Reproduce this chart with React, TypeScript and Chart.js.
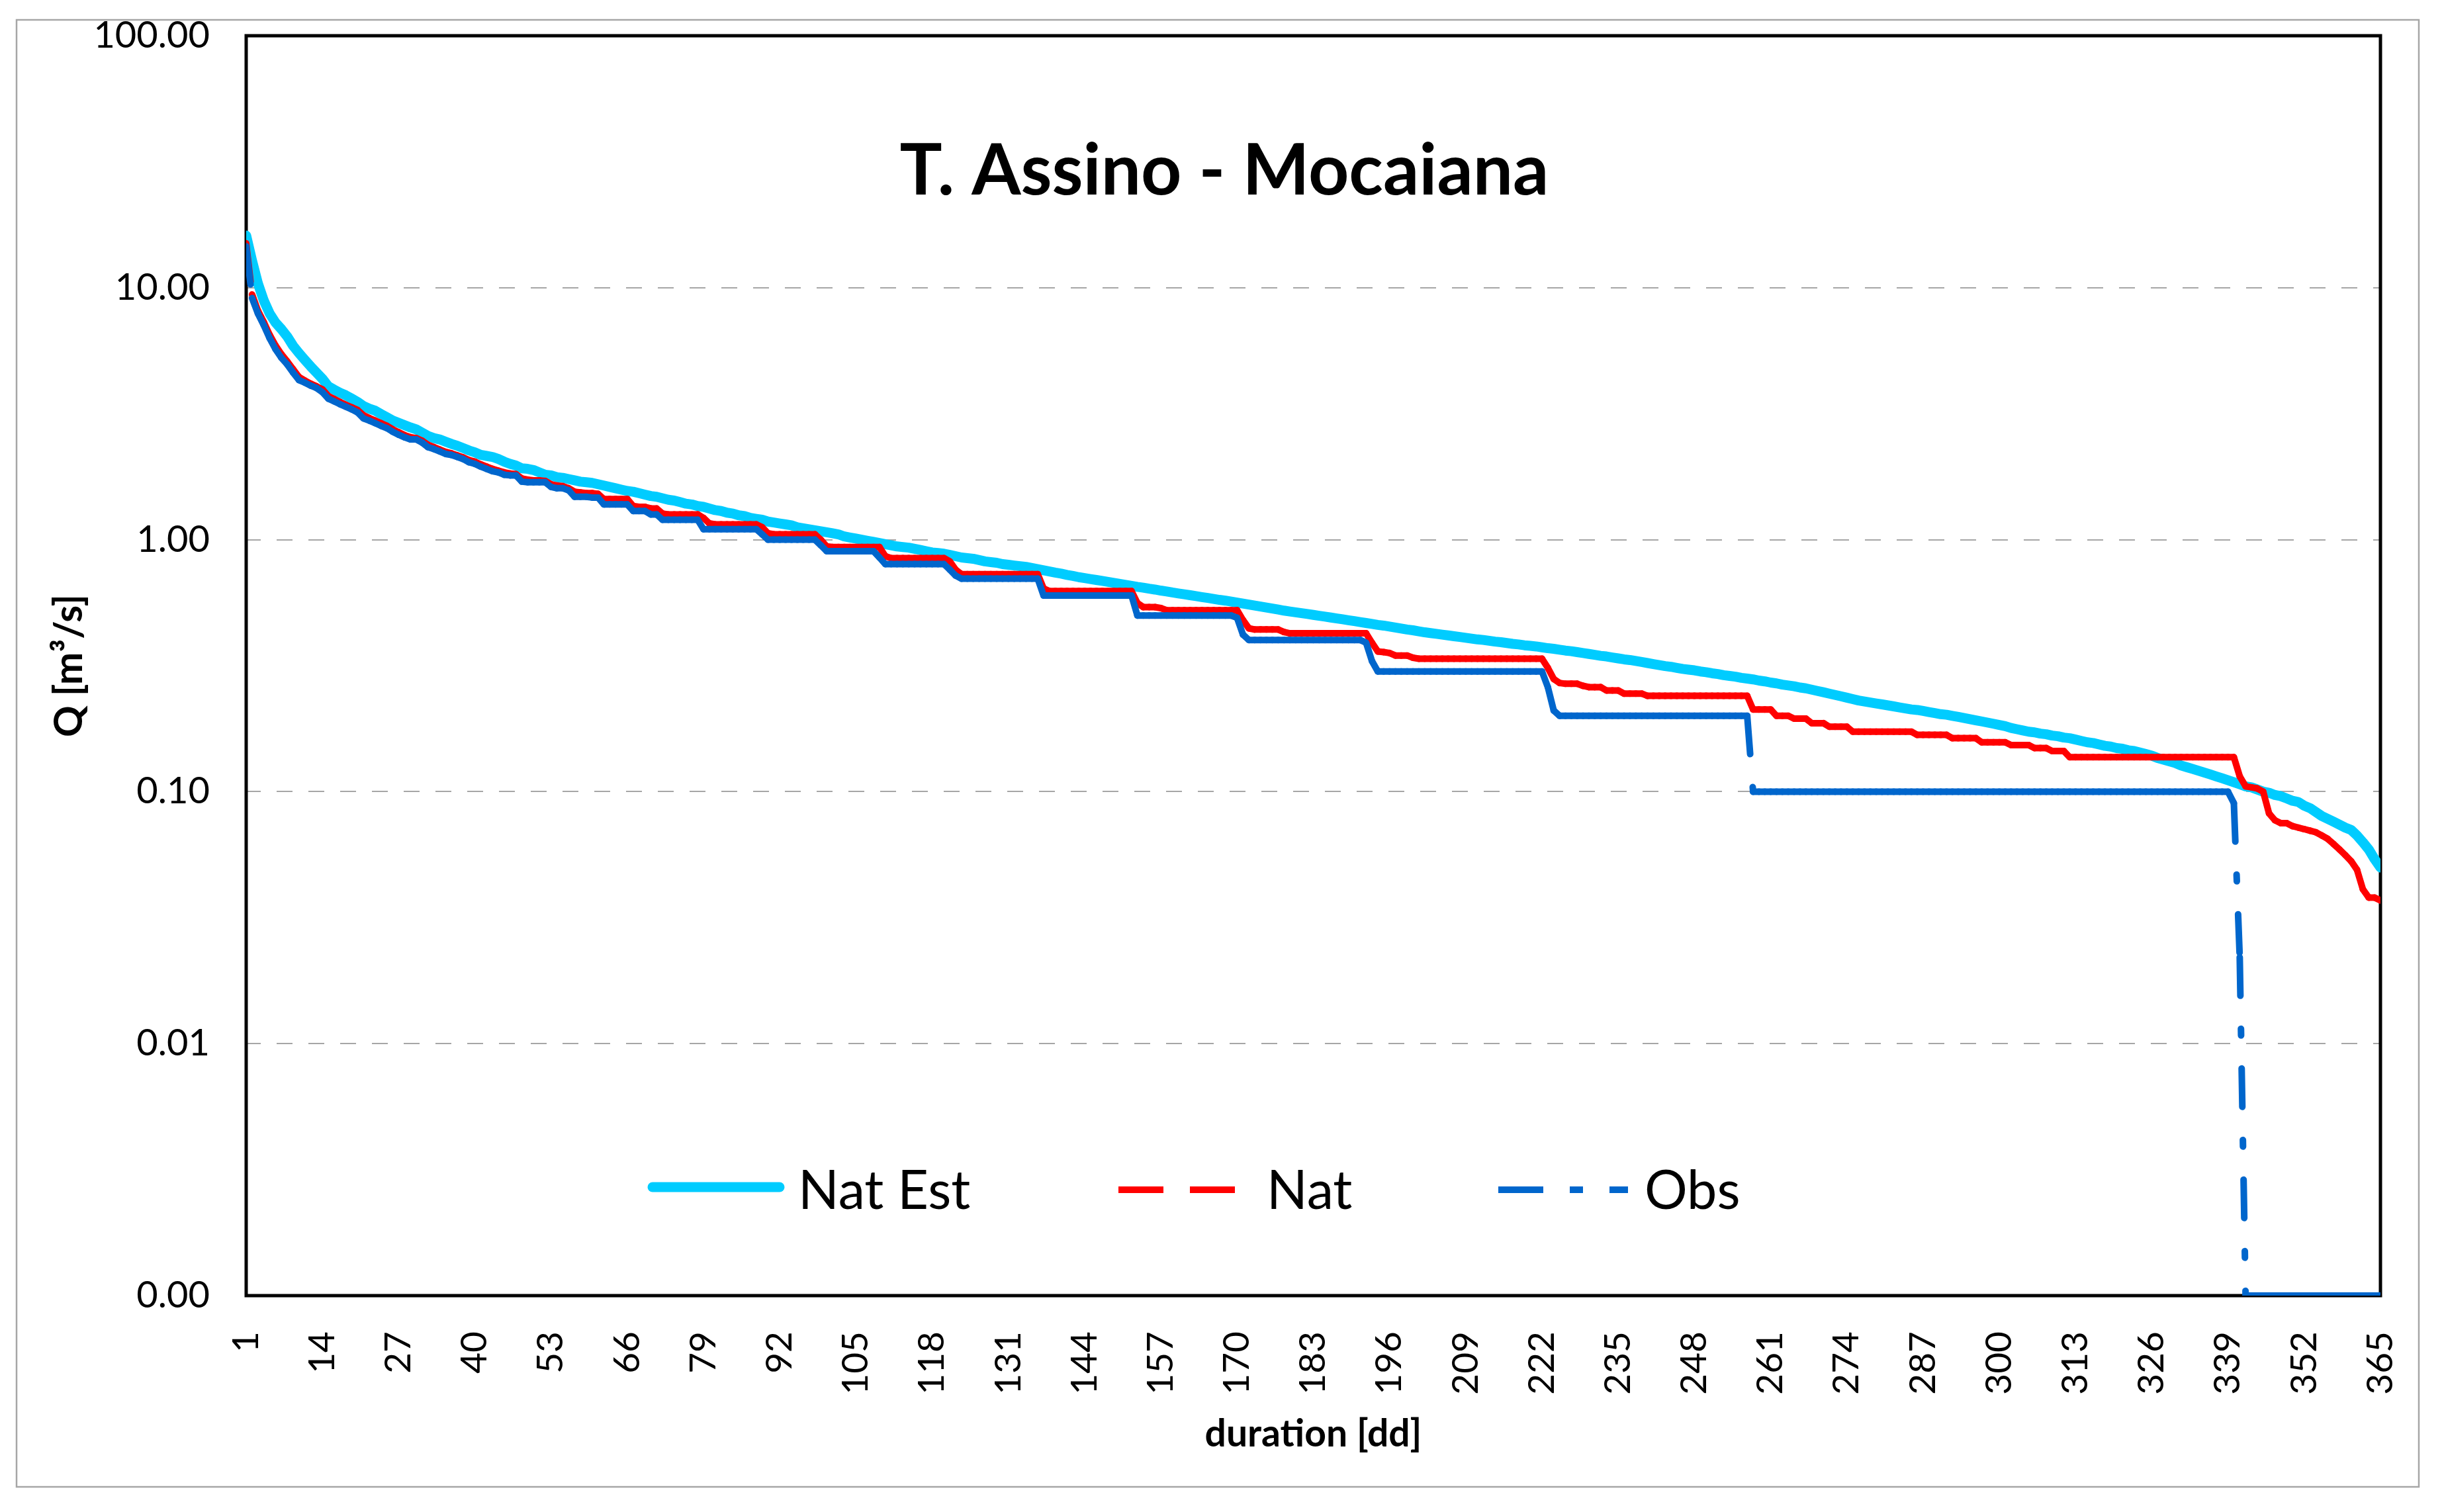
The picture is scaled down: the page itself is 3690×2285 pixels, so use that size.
import { useEffect, useRef } from "react"
import { Chart, registerables } from "chart.js"

Chart.register(...registerables)

const W = 3690
const H = 2285
const FONT = "Lato"

const TITLE = "T. Assino - Mocaiana"
const Y_TITLE = "Q [m³/s]"
const X_TITLE = "duration [dd]"

// categories: duration in days
const days = Array.from({ length: 365 }, (_, i) => i + 1)
const seriesNames = ["Nat Est", "Nat", "Obs"]

const xTickDays = [
  1, 14, 27, 40, 53, 66, 79, 92, 105, 118, 131, 144, 157, 170, 183, 196, 209, 222, 235, 248, 261, 274,
  287, 300, 313, 326, 339, 352, 365,
]
const yTicks = [0.001, 0.01, 0.1, 1, 10, 100]
const yTickLabels = ["0.00", "0.01", "0.10", "1.00", "10.00", "100.00"]

// Q [m3/s], one value per day
const natEst = [
  16.1, 12.8, 10.4, 8.9, 7.9, 7.27, 6.85, 6.4, 5.88, 5.5, // 1
  5.17, 4.87, 4.6, 4.35, 4.06, 3.94, 3.83, 3.74, 3.63, 3.52, // 11
  3.39, 3.31, 3.25, 3.15, 3.06, 2.97, 2.91, 2.85, 2.79, 2.74, // 21
  2.66, 2.58, 2.53, 2.5, 2.45, 2.4, 2.36, 2.31, 2.26, 2.22, // 31
  2.17, 2.15, 2.13, 2.09, 2.04, 2.0, 1.97, 1.92, 1.91, 1.89, // 41
  1.85, 1.81, 1.8, 1.77, 1.76, 1.74, 1.72, 1.7, 1.69, 1.68, // 51
  1.66, 1.64, 1.62, 1.6, 1.58, 1.56, 1.55, 1.53, 1.51, 1.49, // 61
  1.48, 1.46, 1.44, 1.43, 1.41, 1.39, 1.38, 1.36, 1.35, 1.33, // 71
  1.31, 1.3, 1.28, 1.27, 1.25, 1.24, 1.22, 1.21, 1.2, 1.18, // 81
  1.17, 1.16, 1.15, 1.14, 1.12, 1.11, 1.1, 1.09, 1.08, 1.07, // 91
  1.06, 1.05, 1.03, 1.02, 1.01, 1.0, 0.99, 0.98, 0.97, 0.96, // 101
  0.95, 0.94, 0.935, 0.93, 0.92, 0.91, 0.9, 0.89, 0.885, 0.88, // 111
  0.87, 0.86, 0.85, 0.845, 0.84, 0.83, 0.82, 0.815, 0.81, 0.8, // 121
  0.795, 0.79, 0.785, 0.78, 0.772, 0.764, 0.756, 0.748, 0.74, 0.733, // 131
  0.725, 0.718, 0.71, 0.704, 0.698, 0.692, 0.686, 0.68, 0.674, 0.668, // 141
  0.662, 0.656, 0.65, 0.645, 0.639, 0.634, 0.628, 0.623, 0.617, 0.612, // 151
  0.607, 0.602, 0.597, 0.592, 0.587, 0.582, 0.577, 0.573, 0.568, 0.563, // 161
  0.558, 0.553, 0.548, 0.543, 0.538, 0.533, 0.528, 0.523, 0.519, 0.515, // 171
  0.511, 0.507, 0.503, 0.499, 0.495, 0.491, 0.487, 0.483, 0.479, 0.475, // 181
  0.471, 0.467, 0.463, 0.459, 0.456, 0.452, 0.448, 0.444, 0.44, 0.437, // 191
  0.433, 0.429, 0.426, 0.423, 0.42, 0.417, 0.414, 0.411, 0.408, 0.405, // 201
  0.402, 0.4, 0.397, 0.394, 0.392, 0.389, 0.386, 0.384, 0.381, 0.379, // 211
  0.377, 0.374, 0.371, 0.369, 0.366, 0.363, 0.361, 0.358, 0.355, 0.352, // 221
  0.349, 0.346, 0.344, 0.341, 0.338, 0.335, 0.333, 0.33, 0.327, 0.324, // 231
  0.321, 0.318, 0.315, 0.313, 0.31, 0.307, 0.305, 0.303, 0.3, 0.298, // 241
  0.295, 0.293, 0.29, 0.288, 0.286, 0.283, 0.281, 0.279, 0.276, 0.274, // 251
  0.271, 0.269, 0.266, 0.264, 0.262, 0.259, 0.257, 0.254, 0.251, 0.248, // 261
  0.245, 0.242, 0.239, 0.236, 0.233, 0.23, 0.228, 0.226, 0.224, 0.222, // 271
  0.22, 0.218, 0.216, 0.214, 0.212, 0.211, 0.209, 0.207, 0.205, 0.203, // 281
  0.202, 0.2, 0.198, 0.196, 0.194, 0.192, 0.19, 0.188, 0.186, 0.184, // 291
  0.182, 0.179, 0.177, 0.175, 0.173, 0.172, 0.17, 0.169, 0.167, 0.166, // 301
  0.164, 0.163, 0.161, 0.159, 0.157, 0.156, 0.154, 0.152, 0.151, 0.149, // 311
  0.148, 0.146, 0.145, 0.143, 0.141, 0.139, 0.136, 0.134, 0.132, 0.13, // 321
  0.127, 0.125, 0.123, 0.121, 0.119, 0.117, 0.115, 0.113, 0.111, 0.109, // 331
  0.107, 0.105, 0.104, 0.102, 0.1, 0.099, 0.097, 0.096, 0.094, 0.092, // 341
  0.091, 0.088, 0.086, 0.083, 0.08, 0.078, 0.076, 0.074, 0.072, 0.0705, // 351
  0.067, 0.063, 0.059, 0.054, 0.05, // 361
]

const nat = [
  15.0, 9.4, 8.1, 7.3, 6.5, 5.9, 5.45, 5.1, 4.75, 4.42, // 1
  4.28, 4.16, 4.06, 3.95, 3.72, 3.62, 3.52, 3.43, 3.35, 3.27, // 11
  3.12, 3.04, 2.97, 2.9, 2.83, 2.74, 2.67, 2.6, 2.55, 2.53, // 21
  2.47, 2.38, 2.33, 2.28, 2.23, 2.2, 2.16, 2.12, 2.07, 2.04, // 31
  1.99, 1.95, 1.91, 1.88, 1.85, 1.83, 1.82, 1.75, 1.73, 1.72, // 41
  1.72, 1.71, 1.66, 1.64, 1.63, 1.6, 1.55, 1.54, 1.53, 1.53, // 51
  1.52, 1.45, 1.45, 1.45, 1.45, 1.45, 1.36, 1.35, 1.35, 1.33, // 61
  1.33, 1.27, 1.26, 1.26, 1.26, 1.26, 1.26, 1.26, 1.22, 1.16, // 71
  1.15, 1.15, 1.15, 1.15, 1.15, 1.15, 1.15, 1.15, 1.12, 1.06, // 81
  1.05, 1.05, 1.05, 1.05, 1.05, 1.05, 1.05, 1.05, 1.0, 0.94, // 91
  0.935, 0.935, 0.935, 0.935, 0.935, 0.935, 0.935, 0.935, 0.935, 0.86, // 101
  0.845, 0.845, 0.845, 0.845, 0.845, 0.845, 0.845, 0.845, 0.845, 0.845, // 111
  0.82, 0.76, 0.73, 0.73, 0.73, 0.73, 0.73, 0.73, 0.73, 0.73, // 121
  0.73, 0.73, 0.73, 0.73, 0.73, 0.73, 0.64, 0.625, 0.625, 0.625, // 131
  0.625, 0.625, 0.625, 0.625, 0.625, 0.625, 0.625, 0.625, 0.625, 0.625, // 141
  0.625, 0.625, 0.56, 0.54, 0.54, 0.54, 0.535, 0.525, 0.525, 0.525, // 151
  0.525, 0.525, 0.525, 0.525, 0.525, 0.525, 0.525, 0.525, 0.525, 0.525, // 161
  0.48, 0.445, 0.44, 0.44, 0.44, 0.44, 0.44, 0.43, 0.425, 0.425, // 171
  0.425, 0.425, 0.425, 0.425, 0.425, 0.425, 0.425, 0.425, 0.425, 0.425, // 181
  0.425, 0.425, 0.39, 0.36, 0.358, 0.355, 0.347, 0.347, 0.347, 0.34, // 191
  0.337, 0.337, 0.337, 0.337, 0.337, 0.337, 0.337, 0.337, 0.337, 0.337, // 201
  0.337, 0.337, 0.337, 0.337, 0.337, 0.337, 0.337, 0.337, 0.337, 0.337, // 211
  0.337, 0.337, 0.31, 0.28, 0.27, 0.268, 0.268, 0.268, 0.263, 0.26, // 221
  0.26, 0.26, 0.252, 0.252, 0.252, 0.245, 0.245, 0.245, 0.245, 0.24, // 231
  0.24, 0.24, 0.24, 0.24, 0.24, 0.24, 0.24, 0.24, 0.24, 0.24, // 241
  0.24, 0.24, 0.24, 0.24, 0.24, 0.24, 0.24, 0.212, 0.212, 0.212, // 251
  0.212, 0.2, 0.2, 0.2, 0.195, 0.195, 0.195, 0.187, 0.187, 0.187, // 261
  0.181, 0.181, 0.181, 0.181, 0.173, 0.173, 0.173, 0.173, 0.173, 0.173, // 271
  0.173, 0.173, 0.173, 0.173, 0.173, 0.168, 0.168, 0.168, 0.168, 0.168, // 281
  0.168, 0.163, 0.163, 0.163, 0.163, 0.163, 0.157, 0.157, 0.157, 0.157, // 291
  0.157, 0.153, 0.153, 0.153, 0.153, 0.149, 0.149, 0.149, 0.145, 0.145, // 301
  0.145, 0.137, 0.137, 0.137, 0.137, 0.137, 0.137, 0.137, 0.137, 0.137, // 311
  0.137, 0.137, 0.137, 0.137, 0.137, 0.137, 0.137, 0.137, 0.137, 0.137, // 321
  0.137, 0.137, 0.137, 0.137, 0.137, 0.137, 0.137, 0.137, 0.137, 0.137, // 331
  0.115, 0.105, 0.104, 0.103, 0.1, 0.082, 0.077, 0.075, 0.075, 0.073, // 341
  0.072, 0.071, 0.07, 0.069, 0.067, 0.065, 0.062, 0.059, 0.056, 0.053, // 351
  0.049, 0.041, 0.038, 0.038, 0.037, // 361
]

const obs = [
  14.6, 9.1, 7.9, 7.1, 6.3, 5.7, 5.27, 4.96, 4.6, 4.3, // 1
  4.2, 4.09, 4.0, 3.85, 3.63, 3.54, 3.45, 3.37, 3.29, 3.2, // 11
  3.03, 2.97, 2.9, 2.83, 2.77, 2.68, 2.61, 2.55, 2.5, 2.5, // 21
  2.43, 2.33, 2.29, 2.24, 2.19, 2.17, 2.13, 2.09, 2.03, 2.0, // 31
  1.95, 1.91, 1.87, 1.85, 1.81, 1.8, 1.8, 1.7, 1.69, 1.69, // 41
  1.69, 1.69, 1.62, 1.6, 1.6, 1.57, 1.48, 1.48, 1.48, 1.47, // 51
  1.47, 1.38, 1.38, 1.38, 1.38, 1.38, 1.3, 1.3, 1.3, 1.26, // 61
  1.26, 1.2, 1.2, 1.2, 1.2, 1.2, 1.2, 1.2, 1.1, 1.1, // 71
  1.1, 1.1, 1.1, 1.1, 1.1, 1.1, 1.1, 1.1, 1.05, 1.0, // 81
  1.0, 1.0, 1.0, 1.0, 1.0, 1.0, 1.0, 1.0, 0.95, 0.9, // 91
  0.9, 0.9, 0.9, 0.9, 0.9, 0.9, 0.9, 0.9, 0.85, 0.8, // 101
  0.8, 0.8, 0.8, 0.8, 0.8, 0.8, 0.8, 0.8, 0.8, 0.8, // 111
  0.76, 0.72, 0.7, 0.7, 0.7, 0.7, 0.7, 0.7, 0.7, 0.7, // 121
  0.7, 0.7, 0.7, 0.7, 0.7, 0.7, 0.6, 0.6, 0.6, 0.6, // 131
  0.6, 0.6, 0.6, 0.6, 0.6, 0.6, 0.6, 0.6, 0.6, 0.6, // 141
  0.6, 0.6, 0.5, 0.5, 0.5, 0.5, 0.5, 0.5, 0.5, 0.5, // 151
  0.5, 0.5, 0.5, 0.5, 0.5, 0.5, 0.5, 0.5, 0.5, 0.49, // 161
  0.42, 0.4, 0.4, 0.4, 0.4, 0.4, 0.4, 0.4, 0.4, 0.4, // 171
  0.4, 0.4, 0.4, 0.4, 0.4, 0.4, 0.4, 0.4, 0.4, 0.4, // 181
  0.4, 0.39, 0.33, 0.3, 0.3, 0.3, 0.3, 0.3, 0.3, 0.3, // 191
  0.3, 0.3, 0.3, 0.3, 0.3, 0.3, 0.3, 0.3, 0.3, 0.3, // 201
  0.3, 0.3, 0.3, 0.3, 0.3, 0.3, 0.3, 0.3, 0.3, 0.3, // 211
  0.3, 0.3, 0.26, 0.21, 0.2, 0.2, 0.2, 0.2, 0.2, 0.2, // 221
  0.2, 0.2, 0.2, 0.2, 0.2, 0.2, 0.2, 0.2, 0.2, 0.2, // 231
  0.2, 0.2, 0.2, 0.2, 0.2, 0.2, 0.2, 0.2, 0.2, 0.2, // 241
  0.2, 0.2, 0.2, 0.2, 0.2, 0.2, 0.2, 0.1, 0.1, 0.1, // 251
  0.1, 0.1, 0.1, 0.1, 0.1, 0.1, 0.1, 0.1, 0.1, 0.1, // 261
  0.1, 0.1, 0.1, 0.1, 0.1, 0.1, 0.1, 0.1, 0.1, 0.1, // 271
  0.1, 0.1, 0.1, 0.1, 0.1, 0.1, 0.1, 0.1, 0.1, 0.1, // 281
  0.1, 0.1, 0.1, 0.1, 0.1, 0.1, 0.1, 0.1, 0.1, 0.1, // 291
  0.1, 0.1, 0.1, 0.1, 0.1, 0.1, 0.1, 0.1, 0.1, 0.1, // 301
  0.1, 0.1, 0.1, 0.1, 0.1, 0.1, 0.1, 0.1, 0.1, 0.1, // 311
  0.1, 0.1, 0.1, 0.1, 0.1, 0.1, 0.1, 0.1, 0.1, 0.1, // 321
  0.1, 0.1, 0.1, 0.1, 0.1, 0.1, 0.1, 0.1, 0.1, 0.09, // 331
  0.022, 0, 0, 0, 0, 0, 0, 0, 0, 0, // 341
  0, 0, 0, 0, 0, 0, 0, 0, 0, 0, // 351
  0, 0, 0, 0, 0, // 361
]

const Y_MIN = yTicks[0]
const Y_MAX = yTicks[yTicks.length - 1]

const CYAN = "#00CCFF"
const RED = "#FF0000"
const BLUE = "#0066CC"

// Excel starts the dash pattern again on every segment; alternate a tiny
// offset so Chart.js strokes each segment on its own
const restartDash = {
  borderDashOffset: (ctx: any) => (ctx.p0DataIndex % 2 ? 0.001 : 0),
}

const legendItems = [
  { color: CYAN, width: 15, dash: [], cap: "round", x0: 986, x1: 1178, y: 1794, textX: 1206 },
  { color: RED, width: 10, dash: [68, 40], cap: "butt", x0: 1690, x1: 1868, y: 1798, textX: 1914 },
  { color: BLUE, width: 10, dash: [68, 40, 20, 40], cap: "butt", x0: 2264, x1: 2460, y: 1798, textX: 2485 },
]

const decorations = {
  id: "decorations",
  beforeDraw(chart: Chart) {
    const { ctx } = chart
    ctx.save()
    ctx.fillStyle = "#ffffff"
    ctx.fillRect(0, 0, chart.width, chart.height)
    ctx.strokeStyle = "#A6A6A6"
    ctx.lineWidth = 2.5
    ctx.strokeRect(25, 30, 3630, 2217)
    ctx.restore()
  },
  beforeDatasetsDraw(chart: Chart) {
    const { ctx, chartArea: a } = chart
    ctx.save()
    ctx.strokeStyle = "#000000"
    ctx.lineWidth = 5
    ctx.strokeRect(a.left, a.top, a.right - a.left, a.bottom - a.top)
    ctx.restore()
  },
  afterDraw(chart: Chart) {
    const { ctx } = chart
    ctx.save()
    ctx.fillStyle = "#000000"
    ctx.font = `bold 107px ${FONT}`
    ctx.textAlign = "center"
    ctx.textBaseline = "alphabetic"
    ctx.fillText(TITLE, 1850, 294)

    ctx.font = `81px ${FONT}`
    ctx.textAlign = "left"
    legendItems.forEach((item, i) => {
      ctx.save()
      ctx.strokeStyle = item.color
      ctx.lineWidth = item.width
      ctx.lineCap = item.cap as CanvasLineCap
      ctx.setLineDash(item.dash)
      ctx.beginPath()
      ctx.moveTo(item.x0, item.y)
      ctx.lineTo(item.x1, item.y)
      ctx.stroke()
      ctx.restore()
      ctx.fillText(seriesNames[i], item.textX, 1827)
    })
    ctx.restore()
  },
}

export default function App() {
  const chartRef = useRef<HTMLCanvasElement>(null)
  const chartInstance = useRef<Chart | null>(null)

  useEffect(() => {
    if (!chartRef.current) return
    if (chartInstance.current) chartInstance.current.destroy()

    chartInstance.current = new Chart(chartRef.current, {
      type: "line",
      data: {
        datasets: [
          {
            label: seriesNames[0],
            data: natEst.map((v, i) => ({ x: days[i], y: v })),
            borderColor: CYAN,
            borderWidth: 15,
            borderJoinStyle: "round",
            borderCapStyle: "round",
            pointRadius: 0,
            tension: 0,
            order: 3,
          },
          {
            label: seriesNames[1],
            data: nat.map((v, i) => ({ x: days[i], y: v })),
            borderColor: RED,
            borderWidth: 10,
            borderCapStyle: "round",
            borderDash: [58, 50],
            segment: restartDash,
            pointRadius: 0,
            tension: 0,
            order: 2,
          },
          {
            label: seriesNames[2],
            // zero flow sits on the 0.00 floor of the log axis
            data: obs.map((v, i) => ({ x: days[i], y: Math.max(v, Y_MIN) })),
            borderColor: BLUE,
            borderWidth: 10,
            borderCapStyle: "round",
            borderDash: [58, 50, 10, 50],
            segment: restartDash,
            pointRadius: 0,
            tension: 0,
            order: 1,
          },
        ],
      },
      options: {
        responsive: false,
        animation: false,
        devicePixelRatio: 1,
        layout: { padding: { top: 54, right: 93, bottom: 0, left: 0 } },
        plugins: {
          legend: { display: false },
          title: { display: false },
          tooltip: { enabled: false },
        },
        scales: {
          x: {
            type: "linear",
            min: 1,
            max: 365,
            afterBuildTicks: (scale: any) => {
              scale.ticks = xTickDays.map((v) => ({ value: v }))
            },
            afterFit: (scale: any) => {
              scale.height = 327
              scale.paddingLeft = 0
              scale.paddingRight = 0
            },
            grid: { display: false, drawTicks: false, tickLength: 0 },
            border: { display: false },
            ticks: {
              autoSkip: false,
              minRotation: 90,
              maxRotation: 90,
              padding: 54,
              color: "#000000",
              font: { family: FONT, size: 55 },
              callback: (value: any) => String(value),
            },
            title: {
              display: true,
              text: X_TITLE,
              color: "#000000",
              font: { family: FONT, size: 57, weight: "bold" },
              padding: { top: 0, bottom: 83 },
            },
          },
          y: {
            type: "logarithmic",
            min: Y_MIN,
            max: Y_MAX,
            afterBuildTicks: (scale: any) => {
              scale.ticks = yTicks.map((v) => ({ value: v }))
            },
            afterFit: (scale: any) => {
              scale.width = 372
              scale.paddingTop = 0
              scale.paddingBottom = 0
            },
            grid: { color: "#A6A6A6", lineWidth: 2, drawTicks: false, tickLength: 0 },
            border: { display: false, dash: [24, 24], dashOffset: 2 },
            ticks: {
              padding: 55,
              color: "#000000",
              font: { family: FONT, size: 56 },
              callback: (_value: any, index: number) => yTickLabels[index],
            },
            title: {
              display: true,
              text: Y_TITLE,
              color: "#000000",
              font: { family: FONT, size: 59, weight: "bold" },
              padding: { top: 70, bottom: 0 },
            },
          },
        },
      },
      plugins: [decorations],
    } as any)

    return () => {
      if (chartInstance.current) {
        chartInstance.current.destroy()
        chartInstance.current = null
      }
    }
  }, [])

  return (
    <div style={{ position: "absolute", left: 0, top: 0, width: W, height: H, background: "#ffffff" }}>
      <canvas ref={chartRef} width={W} height={H} style={{ width: W, height: H, display: "block" }}></canvas>
    </div>
  )
}
